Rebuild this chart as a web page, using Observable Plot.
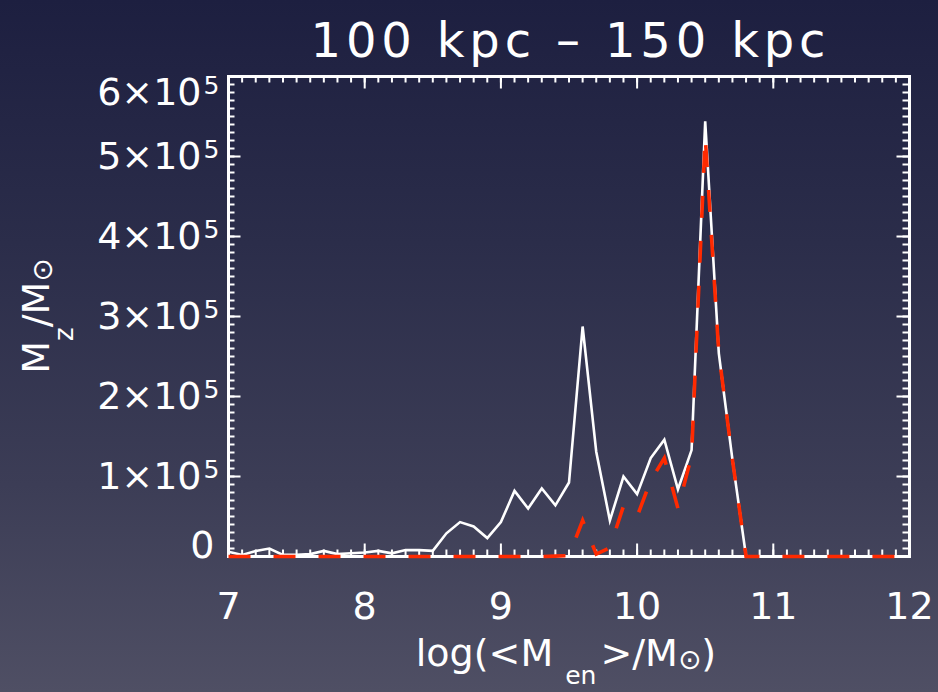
<!DOCTYPE html>
<html>
<head>
<meta charset="utf-8">
<script src="https://cdn.jsdelivr.net/npm/d3@7"></script>
<script src="https://cdn.jsdelivr.net/npm/@observablehq/plot@0.6"></script>
<style>
  html, body { margin: 0; padding: 0; }
  body {
    width: 938px; height: 692px; overflow: hidden;
    background: linear-gradient(to bottom, #1d1f40 0%, #2b2d4a 35%, #3c3d56 70%, #4f4f64 100%);
  }
  svg { display: block; }
</style>
</head>
<body>
<div id="chart"></div>
<script>
// ---- data ----
const logM = [7.0,7.1,7.2,7.3,7.4,7.5,7.6,7.7,7.8,7.9,
              8.0,8.1,8.2,8.3,8.4,8.5,8.6,8.7,8.8,8.9,
              9.0,9.1,9.2,9.3,9.4,9.5,9.6,9.7,9.8,9.9,
              10.0,10.1,10.2,10.3,10.4,10.5,10.6,10.7,10.8,10.9,
              11.0,11.1,11.2,11.3,11.4,11.5,11.6,11.7,11.8,11.9,12.0];
const totalMz = [6000,2000,7000,10000,2000,2000,3000,7000,3000,4000,
                 5000,7000,4000,8000,8000,7000,29000,43000,37500,23000,
                 43000,82000,60000,85000,64000,92500,287500,131000,45000,100000,
                 78000,123000,146000,84000,133000,544000,254000,121000,0,0,
                 0,0,0,0,0,0,0,0,0,0,0];
const redMz = [0,0,0,0,0,0,0,0,0,0,
               0,0,0,0,0,0,0,0,0,0,
               0,0,0,0,500,1000,45000,3000,11000,63000,
               50000,95000,123000,60000,126000,525000,254000,121000,0,0,
               0,0,0,0,0,0,0,0,0,0,0];
const xTicks = [7, 8, 9, 10, 11, 12];
const yTicks = [0, 100000, 200000, 300000, 400000, 500000, 600000];
const titleText = "100 kpc \u2013 150 kpc";

// ---- layout ----
const W = 938, H = 692;
const mL = 228, mR = 29, mT = 76, mB = 136;
const plotW = W - mL - mR, plotH = H - mT - mB;
const FONT = "DejaVu Sans";

const rows = logM.map((x, i) => ({x, total: totalMz[i], red: redMz[i]}));
const xMinor = d3.range(70, 121).map(d => d / 10);
const yMinor = d3.range(0, 61).map(d => d * 10000);
const yMid = yTicks.filter(d => d > 0 && d < 600000);
const yTop = yTicks.filter(d => d === 600000);
const yZero = yTicks.filter(d => d === 0);

const tickStyle = {stroke: "white", strokeWidth: 2};
const majX = 12.5, minX = 6.5;

function supLabels(data, dy) {
  return [
    Plot.text(data, {y: d => d, text: d => `${d / 1e5}\u00d710`, frameAnchor: "left",
      textAnchor: "end", dx: -27, dy, fontSize: 38, fill: "white"}),
    Plot.text(data, {y: d => d, text: () => "5", frameAnchor: "left",
      textAnchor: "start", dx: -25, dy: dy - 7, fontSize: 25, fill: "white"})
  ];
}

const chart = Plot.plot({
  width: W, height: H,
  marginLeft: mL, marginRight: mR, marginTop: mT, marginBottom: mB,
  style: {background: "transparent", color: "white", fontFamily: FONT},
  x: {domain: [7, 12], axis: null},
  y: {domain: [0, 600000], axis: null},
  marks: [
    // inward tick marks on all four sides
    Plot.tickX(xMinor, {x: d => d, ...tickStyle, insetTop: plotH - minX}),
    Plot.tickX(xMinor, {x: d => d, ...tickStyle, insetBottom: plotH - minX}),
    Plot.tickX(xTicks, {x: d => d, ...tickStyle, insetTop: plotH - majX}),
    Plot.tickX(xTicks, {x: d => d, ...tickStyle, insetBottom: plotH - majX}),
    Plot.tickY(yMinor, {y: d => d, ...tickStyle, insetRight: plotW - minX}),
    Plot.tickY(yMinor, {y: d => d, ...tickStyle, insetLeft: plotW - minX}),
    Plot.tickY(yTicks, {y: d => d, ...tickStyle, insetRight: plotW - majX}),
    Plot.tickY(yTicks, {y: d => d, ...tickStyle, insetLeft: plotW - majX}),
    Plot.frame({stroke: "white", strokeWidth: 3}),
    // x tick labels
    Plot.axisX(xTicks, {tickSize: 0, tickPadding: 36, fontSize: 38, fill: "white",
      label: null, tickFormat: d => String(d)}),
    // y tick labels
    ...supLabels(yMid, 0),
    ...supLabels(yTop, 16),
    Plot.text(yZero, {y: d => d, text: () => "0", frameAnchor: "left", textAnchor: "end",
      dx: -14, dy: -11, fontSize: 38, fill: "white"}),
    // data
    Plot.line(rows, {x: "x", y: "total", stroke: "white", strokeWidth: 2.6,
      strokeLinejoin: "miter", strokeMiterlimit: 10, strokeLinecap: "butt"}),
    Plot.line(rows, {x: "x", y: "red", stroke: "#ff2a00", strokeWidth: 3.6,
      strokeDasharray: "22,23", strokeLinejoin: "miter", strokeMiterlimit: 10, strokeLinecap: "butt"})
  ]
});

document.getElementById("chart").appendChild(chart);

// ---- title and axis titles (with sub-scripts) ----
const svg = d3.select(chart);
svg.append("text")
  .attr("x", 568).attr("y", 57)
  .attr("text-anchor", "middle")
  .attr("font-family", FONT).attr("font-size", 48)
  .attr("fill", "white")
  .attr("textLength", 515).attr("lengthAdjust", "spacing")
  .text(titleText);

const xt = svg.append("text")
  .attr("x", 566).attr("y", 666)
  .attr("text-anchor", "middle")
  .attr("font-family", FONT).attr("font-size", 38)
  .attr("fill", "white");
xt.append("tspan").text("log(<M");
xt.append("tspan").attr("font-size", 25).attr("dx", 12).attr("dy", 18).text("en");
xt.append("tspan").attr("dx", 4).attr("dy", -18).text(">/M");
xt.append("tspan").attr("font-size", 28).attr("dy", 3).text("\u2299");
xt.append("tspan").attr("dy", -3).text(")");

const yt = svg.append("text")
  .attr("transform", "translate(49,316) rotate(-90)")
  .attr("text-anchor", "middle")
  .attr("font-family", FONT).attr("font-size", 38)
  .attr("fill", "white");
yt.append("tspan").text("M");
yt.append("tspan").attr("font-size", 26).attr("dy", 24).text("z");
yt.append("tspan").attr("dy", -24).text("/M");
yt.append("tspan").attr("font-size", 28).attr("dy", 3).text("\u2299");
</script>
</body>
</html>
